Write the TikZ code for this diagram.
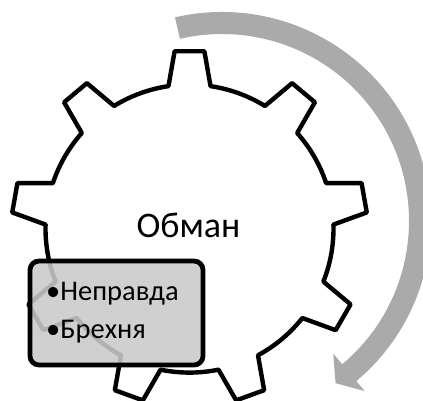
\documentclass[tikz,border=0pt]{standalone}
\usepackage{fontspec}
\setmainfont{Carlito}
\usetikzlibrary{positioning}

\definecolor{arrowgray}{RGB}{170,170,170}
\definecolor{boxgray}{RGB}{202,202,202}

\begin{document}
\begin{tikzpicture}[x=1pt,y=1pt,
    gearline/.style={line width=4.4pt, line join=round, fill=white},
    listbox/.style={draw, line width=4.8pt, rounded corners=9pt, fill=boxgray, fill opacity=0.88},
    title/.style={anchor=base, inner sep=0pt, font=\fontsize{36}{42}\selectfont},
    item/.style={anchor=base west, inner sep=0pt, font=\fontsize{28.5}{34}\selectfont}]
    \useasboundingbox (0,0) rectangle (423,400);
    \coordinate (gc) at (189.5,171.4);
    \coordinate (ac) at (222,179);

    % circular arrow
    \begin{scope}[shift={(ac)}]
        \fill[arrowgray] (103:209) arc[start angle=103, end angle=-50, radius=209pt]
            -- (-50:222) -- (-55:198) -- (-50:173) -- (-50:187)
            arc[start angle=-50, end angle=103, radius=187pt] -- cycle;
    \end{scope}

    % gear
    \begin{scope}[shift={(gc)}]
        \draw[gearline] (1.6:144)
            \foreach \a in {10,50,...,330} {
                -- (\a-4.8:178) -- (\a+4.8:178) -- (\a+8.4:144)
                arc[start angle=\a+8.4, end angle=\a+31.6, radius=144pt]
            } -- cycle;
    \end{scope}

    \node[title] (obman) at (188.5,162.5) {Обман};

    % list box
    \draw[listbox] (30,35) rectangle (203,139);
    \node[item] (nepravda) at (46,100) {•Неправда};
    \node[item] (brehnya) at (46,62) {•Брехня};
\end{tikzpicture}
\end{document}
